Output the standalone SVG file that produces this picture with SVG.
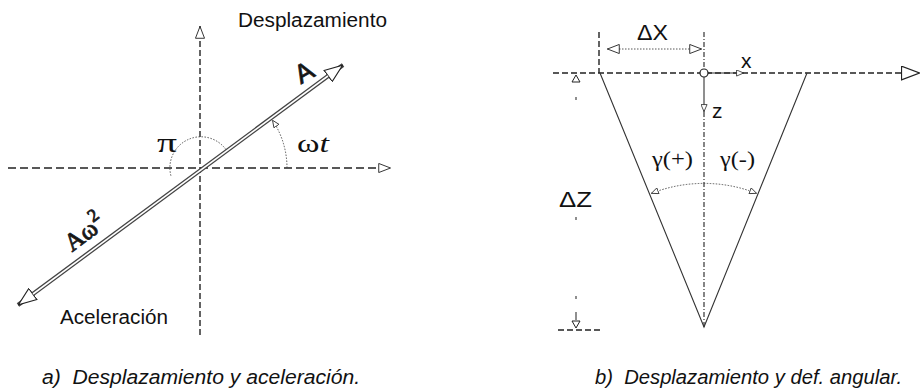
<svg xmlns="http://www.w3.org/2000/svg" width="921" height="391" viewBox="0 0 921 391">
<style>
.sans{font-family:"Liberation Sans",Arial,sans-serif;fill:#111}
.serif{font-family:"Liberation Serif","Times New Roman",serif;fill:#111}
.ital{font-style:italic}
.dash{fill:none;stroke:#222;stroke-width:1.4;stroke-dasharray:8 4}
.dashl{fill:none;stroke:#222;stroke-width:1.4;stroke-dasharray:6 3}
.dashv{fill:none;stroke:#222;stroke-width:1.1;stroke-dasharray:5 2 1 2}
.dot{fill:none;stroke:#444;stroke-width:0.9;stroke-dasharray:1.5 1.5}
.solid{fill:none;stroke:#333;stroke-width:1.1}
.tri{fill:#fff;stroke:#222;stroke-width:1}
</style>
<defs>
<marker id="head" viewBox="0 0 14 11" refX="14" refY="5.5" markerWidth="13" markerHeight="10" orient="auto-start-reverse" markerUnits="userSpaceOnUse">
<path d="M0.5,0.5 L13.5,5.5 L0.5,10.5 Z" fill="#fff" stroke="#222" stroke-width="1"/>
</marker>
<marker id="bighead" viewBox="0 0 18 14" refX="18" refY="7" markerWidth="19" markerHeight="15" orient="auto-start-reverse" markerUnits="userSpaceOnUse">
<path d="M0.5,0.5 L17.5,7 L0.5,13.5 Z" fill="#fff" stroke="#222" stroke-width="1.1"/>
</marker>
<marker id="small" viewBox="0 0 9 8" refX="9" refY="4" markerWidth="8" markerHeight="7" orient="auto-start-reverse" markerUnits="userSpaceOnUse">
<path d="M0.5,0.5 L8.5,4 L0.5,7.5 Z" fill="#fff" stroke="#222" stroke-width="0.9"/>
</marker>
</defs>

<!-- Left diagram -->
<g id="connectors">
<line class="dash" x1="8" y1="168" x2="391" y2="168" marker-end="url(#head)"/>
<line class="dashl" x1="200" y1="335" x2="200" y2="26" marker-end="url(#head)"/>
<path class="dot" d="M226,149.6 A31,31 0 0 0 171,176"/>
<path class="dot" d="M287,168 A86,86 0 0 0 272.3,119.9" marker-end="url(#small)"/>
<line x1="18" y1="305" x2="343" y2="65" stroke="#444" stroke-width="4.2" marker-start="url(#bighead)" marker-end="url(#bighead)"/>
<line x1="33" y1="294" x2="328" y2="76" stroke="#fff" stroke-width="1.6"/>
</g>
<g id="label-desplazamiento"><text class="sans" x="238" y="27" font-size="20" textLength="149" lengthAdjust="spacingAndGlyphs">Desplazamiento</text></g>
<g id="label-aceleracion"><text class="sans" x="60" y="324" font-size="20" textLength="108" lengthAdjust="spacingAndGlyphs">Aceleración</text></g>
<g id="label-A"><text class="sans" x="304" y="81" font-size="26" text-anchor="middle" transform="rotate(-30 304 72)" fill="#fff" stroke="#222" stroke-width="0.9">A</text></g>
<g id="label-Aw2"><text class="serif" x="84" y="241" font-size="25" text-anchor="middle" transform="rotate(-37 84 232)" fill="#fff" stroke="#222" stroke-width="0.9">Aω<tspan font-size="18" dy="-11">2</tspan></text></g>
<g id="label-pi"><text class="serif" x="157" y="152" font-size="28" textLength="20" lengthAdjust="spacingAndGlyphs">π</text></g>
<g id="label-wt"><text class="serif" x="297" y="152" font-size="26" textLength="32" lengthAdjust="spacingAndGlyphs">ω<tspan font-style="italic">t</tspan></text></g>
<g id="caption-a"><text class="sans ital" x="42" y="384" font-size="20" textLength="318" lengthAdjust="spacingAndGlyphs" xml:space="preserve">a)  Desplazamiento y aceleración.</text></g>

<!-- Right diagram -->
<g id="connectors-b">
<line class="dashl" x1="553" y1="73" x2="920" y2="73" marker-end="url(#bighead)"/>
<line class="dashl" x1="599" y1="32" x2="599" y2="73"/>
<line class="dashv" x1="704" y1="32" x2="704" y2="69"/>
<line class="dashv" x1="704" y1="112" x2="704" y2="327"/>
<polyline class="solid" points="600,73 704,327 807,73"/>
<line class="solid" x1="708" y1="73" x2="744" y2="73" marker-end="url(#small)"/>
<line class="solid" x1="704" y1="77" x2="704" y2="112" marker-end="url(#small)"/>
<line class="dot" x1="607" y1="49" x2="702" y2="49" marker-start="url(#head)" marker-end="url(#head)"/>
<path class="dot" d="M651,193.5 A144,144 0 0 1 757,193.5" marker-start="url(#small)" marker-end="url(#small)"/>
<path class="tri" d="M576,75 L580,82 L572,82 Z"/>
<line class="solid" x1="576" y1="97" x2="576" y2="100"/>
<line class="solid" x1="576" y1="217" x2="576" y2="220"/>
<line class="solid" x1="576" y1="296" x2="576" y2="299"/>
<line class="solid" x1="576" y1="312" x2="576" y2="320"/>
<path class="tri" d="M576,328 L580,321 L572,321 Z"/>
<line class="dashl" x1="558" y1="330" x2="600" y2="330" stroke-dasharray="4 3"/>
</g>
<g id="origin"><circle cx="704" cy="73" r="4" fill="#fff" stroke="#222" stroke-width="1.2"/></g>
<g id="label-dx"><text class="sans" x="637" y="40" font-size="22" textLength="31" lengthAdjust="spacingAndGlyphs">ΔX</text></g>
<g id="label-x"><text class="sans" x="741" y="68" font-size="21">x</text></g>
<g id="label-z"><text class="sans" x="712" y="118" font-size="21">z</text></g>
<g id="label-dz"><text class="sans" x="559" y="207" font-size="22" textLength="33" lengthAdjust="spacingAndGlyphs">ΔZ</text></g>
<g id="label-gp"><text class="serif" x="652" y="166" font-size="22" textLength="41" lengthAdjust="spacingAndGlyphs">γ(+)</text></g>
<g id="label-gm"><text class="serif" x="720" y="166" font-size="22" textLength="35" lengthAdjust="spacingAndGlyphs">γ(-)</text></g>
<g id="caption-b"><text class="sans ital" x="595" y="384" font-size="20" textLength="307" lengthAdjust="spacingAndGlyphs" xml:space="preserve">b)  Desplazamiento y def. angular.</text></g>
</svg>
